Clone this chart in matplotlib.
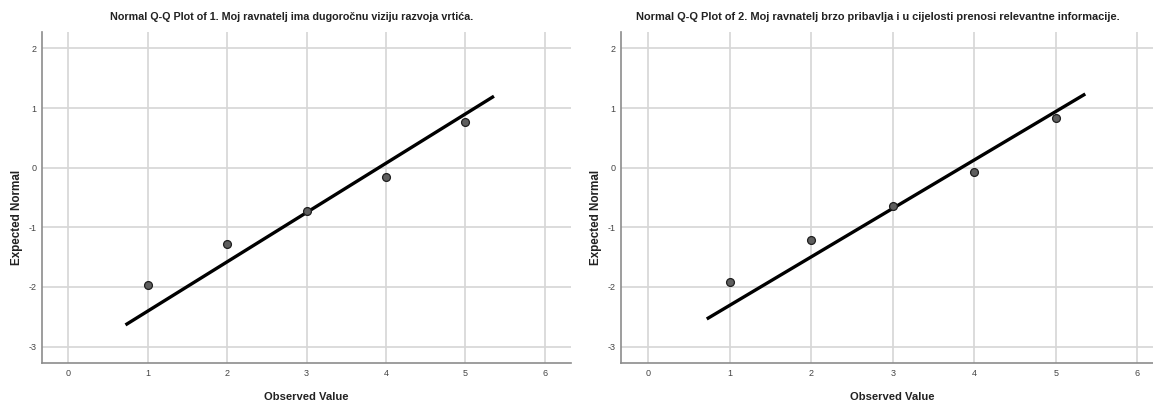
import matplotlib
matplotlib.use("Agg")
import matplotlib.pyplot as plt
import numpy as np

plt.rcParams["axes.unicode_minus"] = False

obs = [1, 2, 3, 4, 5]
exp_q1 = [-1.97, -1.28, -0.72, -0.16, 0.77]
exp_q2 = [-1.92, -1.21, -0.65, -0.07, 0.83]
# reference line: (x - mean) / sd
mean_q1, sd_q1 = 3.91, 1.21
mean_q2, sd_q2 = 3.84, 1.23
line_x = [0.72, 5.36]

titles = ["Normal Q-Q Plot of 1. Moj ravnatelj ima dugoročnu viziju razvoja vrtića.",
          "Normal Q-Q Plot of 2. Moj ravnatelj brzo pribavlja i u cijelosti prenosi relevantne informacije."]
xticks = [0, 1, 2, 3, 4, 5, 6]
yticks = [-3, -2, -1, 0, 1, 2]

W, H = 1153, 403
fig = plt.figure(figsize=(W / 100, H / 100), dpi=100)
boxes = [(41.7, 571), (620.7, 620.7 + 6.663 * 81.6)]
bottom, top = 363.3, 31.7
title_w = [366, 486]


def fit_width(txt, target):
    # shrink/grow font so the drawn text is about `target` pixels wide
    r = fig.canvas.get_renderer()
    for _ in range(3):
        w = txt.get_window_extent(r).width
        txt.set_fontsize(txt.get_fontsize() * target / w)


panels = [(exp_q1, mean_q1, sd_q1), (exp_q2, mean_q2, sd_q2)]
fig.canvas.draw()
for (x0, x1), (ys, m, s), title, tw in zip(boxes, panels, titles, title_w):
    ax = fig.add_axes([x0 / W, (H - bottom) / H, (x1 - x0) / W, (bottom - top) / H])
    ax.set_xlim(-0.335, 6.33)
    ax.set_ylim(-3.28, 2.28)
    ax.set_xticks(xticks)
    ax.set_yticks(yticks)
    ax.grid(True, color="#d6d6d6", lw=1.2)
    ax.set_axisbelow(True)
    for sp in ["top", "right"]:
        ax.spines[sp].set_visible(False)
    for sp in ["left", "bottom"]:
        ax.spines[sp].set_color("#8c8c8c")
        ax.spines[sp].set_linewidth(1.2)
    ax.tick_params(length=0, labelsize=6.5, labelcolor="#444444")
    ax.tick_params(axis="x", pad=4)
    ax.tick_params(axis="y", pad=4)
    for lab in ax.get_xticklabels() + ax.get_yticklabels():
        lab.set_family("Liberation Sans")

    lx = np.array(line_x)
    ax.plot(lx, (lx - m) / s, color="black", lw=2.4, solid_capstyle="butt", zorder=3)
    ax.scatter(obs, ys, s=32, color="#5e5e5e", edgecolor="#1e1e1e", linewidth=0.9, zorder=4)

    t = ax.text(0.473, 1.0 + 14.5 / (bottom - top), title, transform=ax.transAxes,
                ha="center", va="center", family="Liberation Sans", fontweight="bold",
                fontsize=8, color="#222222")
    fit_width(t, tw)
    xl = ax.text(0.5, -(397 - bottom) / (bottom - top), "Observed Value", transform=ax.transAxes,
                 ha="center", va="center", family="Liberation Sans", fontweight="bold",
                 fontsize=8, color="#222222")
    fit_width(xl, 84)
    ax.text(-24.5 / (x1 - x0), (bottom - 217) / (bottom - top), "Expected Normal",
            transform=ax.transAxes, rotation=90, ha="center", va="center",
            family="Liberation Sans", fontweight="bold", fontsize=8.4, color="#222222")

fig.savefig("out.png", dpi=100)
